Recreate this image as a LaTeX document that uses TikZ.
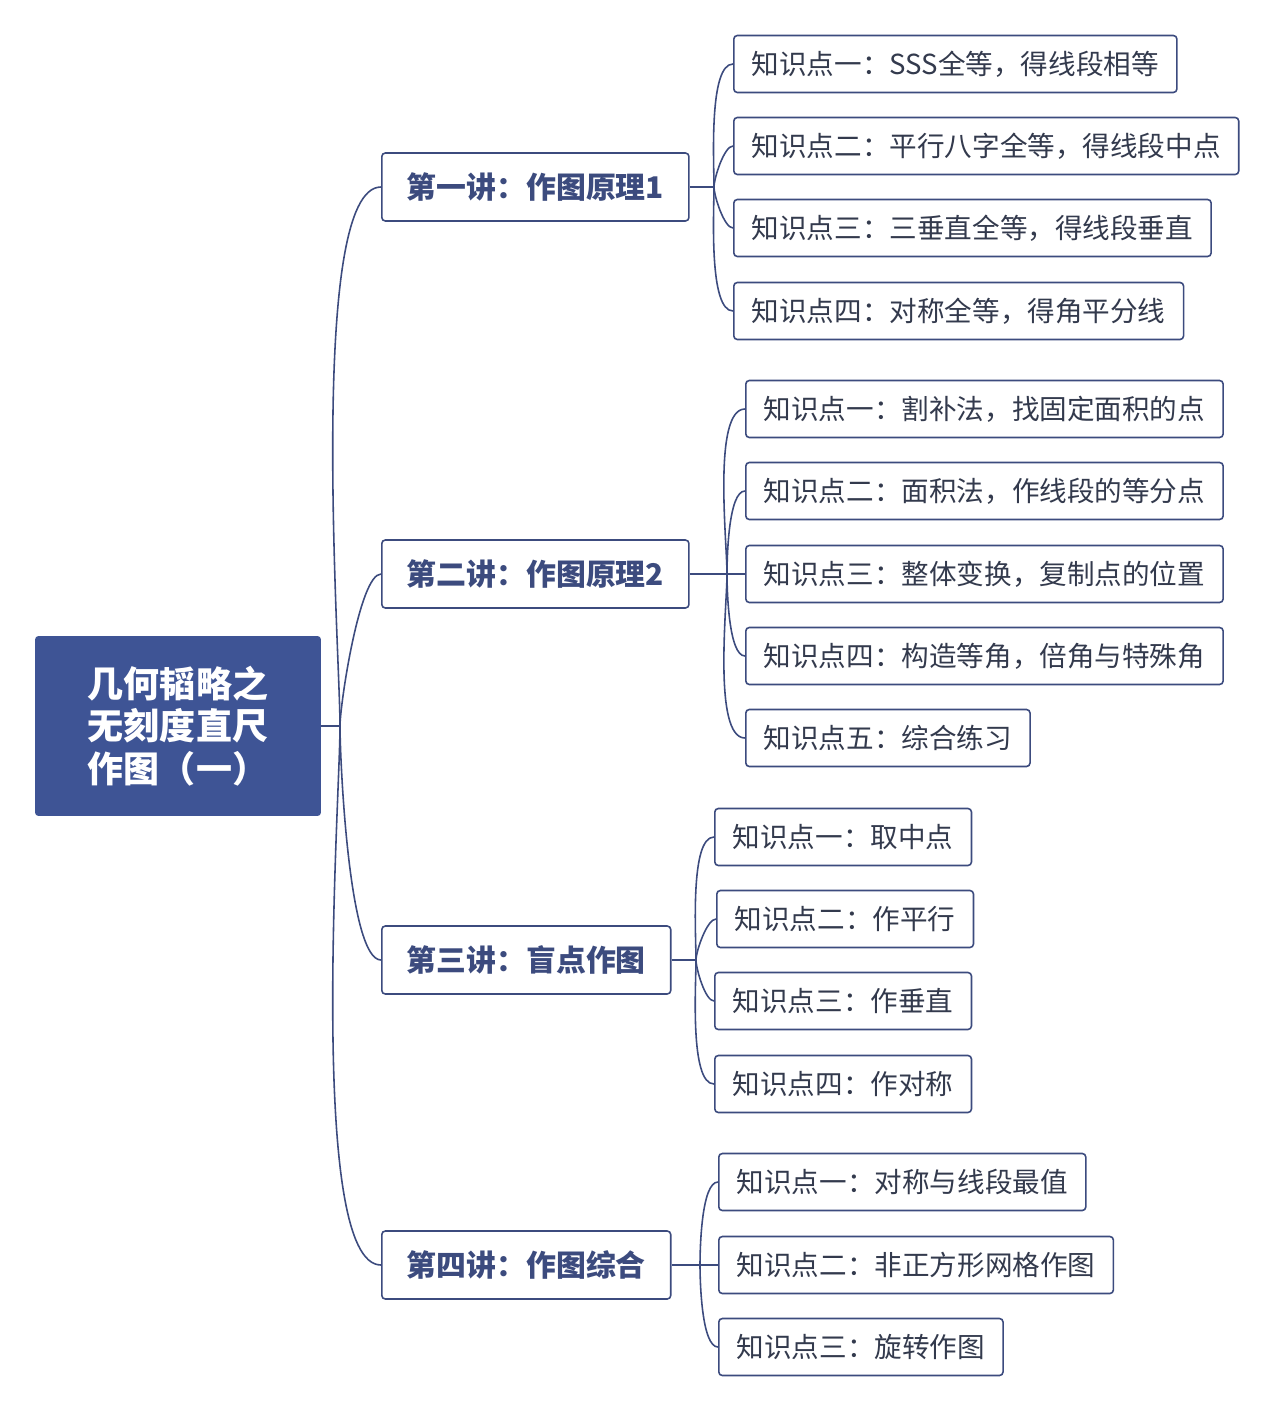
\documentclass[tikz,border=0pt]{standalone}
\usepackage{fontspec}
\setmainfont{Noto Sans CJK SC}
\definecolor{rootblue}{HTML}{3E5495}
\definecolor{linkblue}{HTML}{3C4B7E}
\definecolor{leaftext}{HTML}{333A4D}
\tikzset{
  rootbox/.style={fill=rootblue, text=white, font=\fontsize{20.5}{24}\selectfont\bfseries,
    rounded corners=2pt, align=left, minimum width=5.72cm, minimum height=3.6cm},
  lecture/.style={draw=linkblue, line width=0.9pt, rounded corners=2pt, anchor=west,
    text=linkblue, font=\fontsize{17}{20}\selectfont\bfseries, minimum height=1.36cm, inner xsep=0.5cm},
  leaf/.style={draw=linkblue, line width=0.9pt, rounded corners=2pt, anchor=west,
    text=leaftext, font=\fontsize{15.7}{18}\selectfont, minimum height=1.14cm, inner xsep=0.36cm},
  link/.style={draw=linkblue, line width=0.9pt},
}
\begin{document}
\begin{tikzpicture}[x=0.02cm,y=-0.02cm]
  \useasboundingbox[fill=white] (0,0) rectangle (1280,1412);
  % Root
  \node[rootbox] (root) at (178,726) {几何韬略之\\无刻度直尺\\作图（一）};
  \coordinate (rj) at (340,726);
  \draw[link] (root.east) -- (rj);

  % Lectures
  \node[lecture] (l1) at (381,187) {第一讲：作图原理1};
  \node[lecture] (l2) at (381,574) {第二讲：作图原理2};
  \node[lecture] (l3) at (381,960) {第三讲：盲点作图};
  \node[lecture] (l4) at (381,1265) {第四讲：作图综合};
  \foreach \l in {l1,l2}
    \draw[link] (rj) to[out=90,in=180,looseness=0.35] (\l.west);
  \foreach \l in {l3,l4}
    \draw[link] (rj) to[out=-90,in=180,looseness=0.35] (\l.west);

  % Leaves of lecture 1
  \node[leaf] (a1) at (733,64)  {知识点一：SSS全等，得线段相等};
  \node[leaf] (a2) at (733,146) {知识点二：平行八字全等，得线段中点};
  \node[leaf] (a3) at (733,228) {知识点三：三垂直全等，得线段垂直};
  \node[leaf] (a4) at (733,311) {知识点四：对称全等，得角平分线};
  % Leaves of lecture 2
  \node[leaf] (b1) at (745,409) {知识点一：割补法，找固定面积的点};
  \node[leaf] (b2) at (745,491) {知识点二：面积法，作线段的等分点};
  \node[leaf] (b3) at (745,574) {知识点三：整体变换，复制点的位置};
  \node[leaf] (b4) at (745,656) {知识点四：构造等角，倍角与特殊角};
  \node[leaf] (b5) at (745,738) {知识点五：综合练习};
  % Leaves of lecture 3
  \node[leaf] (c1) at (714,837)  {知识点一：取中点};
  \node[leaf] (c2) at (716,919)  {知识点二：作平行};
  \node[leaf] (c3) at (714,1001) {知识点三：作垂直};
  \node[leaf] (c4) at (714,1084) {知识点四：作对称};
  % Leaves of lecture 4
  \node[leaf] (d1) at (718,1182) {知识点一：对称与线段最值};
  \node[leaf] (d2) at (718,1265) {知识点二：非正方形网格作图};
  \node[leaf] (d3) at (718,1347) {知识点三：旋转作图};

  % Links to leaves
  \coordinate (j1) at (714,187);
  \draw[link] (l1.east) -- (j1);
  \foreach \n in {a1,a2} \draw[link] (j1) to[out=90,in=180,looseness=0.5] (\n.west);
  \foreach \n in {a3,a4} \draw[link] (j1) to[out=-90,in=180,looseness=0.5] (\n.west);
  \coordinate (j2) at (727,574);
  \draw[link] (l2.east) -- (b3.west);
  \foreach \n in {b1,b2} \draw[link] (j2) to[out=90,in=180,looseness=0.5] (\n.west);
  \foreach \n in {b4,b5} \draw[link] (j2) to[out=-90,in=180,looseness=0.5] (\n.west);
  \coordinate (j3) at (696,960);
  \draw[link] (l3.east) -- (j3);
  \foreach \n in {c1,c2} \draw[link] (j3) to[out=90,in=180,looseness=0.5] (\n.west);
  \foreach \n in {c3,c4} \draw[link] (j3) to[out=-90,in=180,looseness=0.5] (\n.west);
  \coordinate (j4) at (700,1265);
  \draw[link] (l4.east) -- (d2.west);
  \draw[link] (j4) to[out=90,in=180,looseness=0.5] (d1.west);
  \draw[link] (j4) to[out=-90,in=180,looseness=0.5] (d3.west);
\end{tikzpicture}
\end{document}
